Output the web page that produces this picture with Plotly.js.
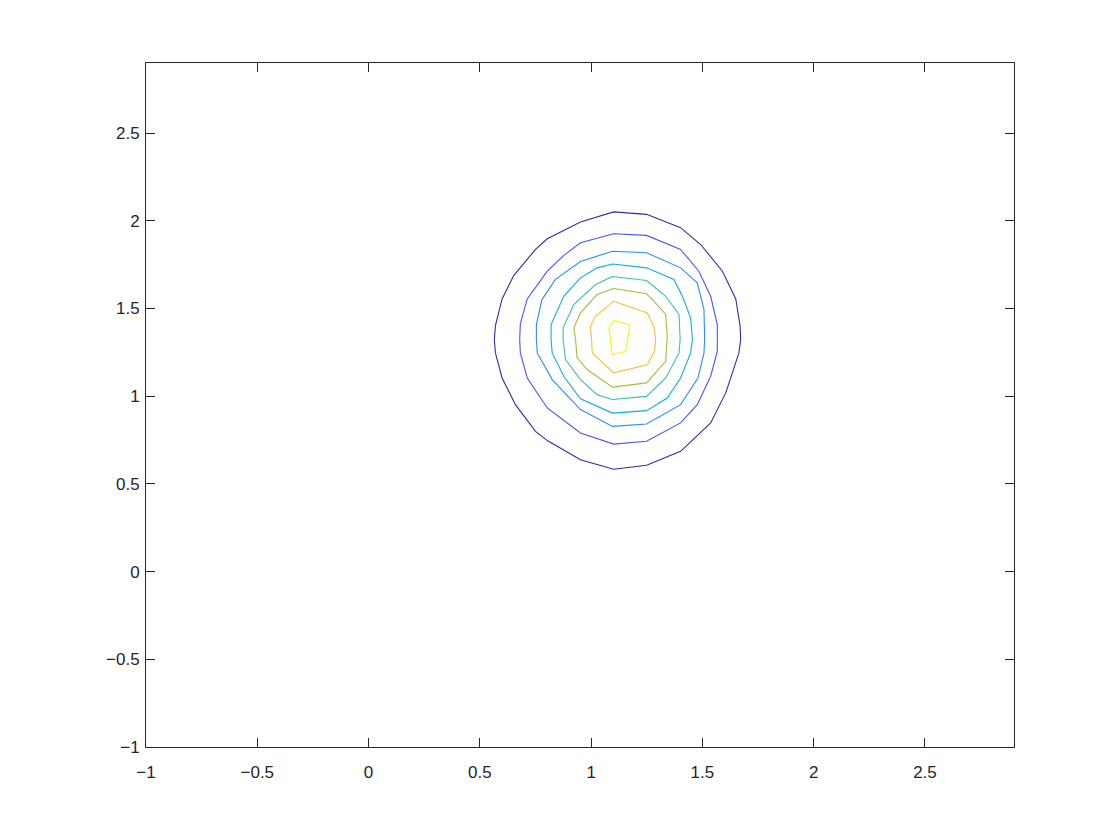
<!DOCTYPE html>
<html>
<head>
<meta charset="utf-8">
<script src="https://cdn.plot.ly/plotly-3.0.1.min.js"></script>
<style>
  body { margin: 0; background: #ffffff; }
  #myDiv { width: 1120px; height: 840px; }
</style>
</head>
<body>
<div id="myDiv"></div>
<script>
// contour levels (outer -> inner)
var lvl1X = [1.101, 1.249, 1.402, 1.492, 1.590, 1.650, 1.669, 1.672, 1.664, 1.605, 1.537, 1.402, 1.249, 1.101, 0.952, 0.803, 0.750, 0.660, 0.600, 0.570, 0.565, 0.570, 0.600, 0.652, 0.750, 0.803, 0.952, 1.101];
var lvl1Y = [2.051, 2.037, 1.961, 1.865, 1.713, 1.555, 1.403, 1.323, 1.247, 1.019, 0.848, 0.686, 0.606, 0.584, 0.638, 0.747, 0.800, 0.952, 1.104, 1.247, 1.323, 1.403, 1.555, 1.688, 1.837, 1.898, 1.993, 2.051];

var lvl2X = [1.101, 1.249, 1.402, 1.484, 1.537, 1.567, 1.567, 1.537, 1.477, 1.402, 1.249, 1.101, 0.952, 0.803, 0.713, 0.682, 0.679, 0.682, 0.713, 0.803, 0.876, 0.952, 1.101];
var lvl2Y = [1.926, 1.917, 1.837, 1.713, 1.570, 1.409, 1.256, 1.114, 0.952, 0.848, 0.743, 0.727, 0.790, 0.933, 1.104, 1.247, 1.323, 1.414, 1.555, 1.713, 1.802, 1.875, 1.926];

var lvl3X = [1.096, 1.249, 1.402, 1.477, 1.507, 1.510, 1.507, 1.480, 1.402, 1.249, 1.096, 0.952, 0.825, 0.758, 0.754, 0.754, 0.779, 0.840, 0.952, 1.096];
var lvl3Y = [1.827, 1.818, 1.732, 1.647, 1.494, 1.323, 1.247, 1.104, 0.952, 0.842, 0.828, 0.924, 1.095, 1.247, 1.323, 1.409, 1.551, 1.666, 1.768, 1.827];

var lvl4X = [1.096, 1.249, 1.372, 1.410, 1.447, 1.455, 1.447, 1.402, 1.342, 1.249, 1.096, 0.952, 0.877, 0.825, 0.820, 0.820, 0.877, 0.952, 1.027, 1.096];
var lvl4Y = [1.754, 1.732, 1.666, 1.570, 1.447, 1.323, 1.247, 1.104, 0.990, 0.918, 0.904, 0.985, 1.114, 1.247, 1.323, 1.409, 1.570, 1.675, 1.732, 1.754];

var lvl5X = [1.096, 1.249, 1.335, 1.395, 1.400, 1.395, 1.335, 1.249, 1.096, 1.027, 0.952, 0.885, 0.874, 0.874, 0.922, 1.020, 1.096];
var lvl5Y = [1.683, 1.660, 1.570, 1.466, 1.323, 1.247, 1.104, 0.999, 0.981, 1.009, 1.095, 1.209, 1.323, 1.390, 1.523, 1.637, 1.683];

var lvl6X = [1.102, 1.249, 1.282, 1.335, 1.342, 1.335, 1.249, 1.096, 0.982, 0.937, 0.930, 0.922, 0.952, 1.027, 1.102];
var lvl6Y = [1.614, 1.584, 1.542, 1.466, 1.340, 1.199, 1.076, 1.052, 1.152, 1.219, 1.323, 1.390, 1.475, 1.580, 1.614];

var lvl7X = [1.102, 1.252, 1.282, 1.290, 1.285, 1.252, 1.102, 1.005, 1.002, 0.997, 1.020, 1.102];
var lvl7Y = [1.542, 1.475, 1.399, 1.323, 1.256, 1.180, 1.133, 1.247, 1.323, 1.399, 1.456, 1.542];

var lvl8X = [1.102, 1.174, 1.155, 1.095, 1.080, 1.102];
var lvl8Y = [1.433, 1.407, 1.256, 1.237, 1.390, 1.433];

var levelColors = ['#3e26a8', '#4757f0', '#2d8cf0', '#0db0d4', '#3ac49e', '#a6be3a', '#fbbc3a', '#f9f50e'];

var xs = [lvl1X, lvl2X, lvl3X, lvl4X, lvl5X, lvl6X, lvl7X, lvl8X];
var ys = [lvl1Y, lvl2Y, lvl3Y, lvl4Y, lvl5Y, lvl6Y, lvl7Y, lvl8Y];

var data = [];
for (var i = 0; i < xs.length; i++) {
    data.push({
        x: xs[i],
        y: ys[i],
        mode: 'lines',
        type: 'scatter',
        line: { color: levelColors[i], width: 1.1 },
        hoverinfo: 'none',
        showlegend: false
    });
}

var axisStyle = {
    range: [-1, 2.9],
    dtick: 0.5,
    tick0: -1,
    showgrid: false,
    zeroline: false,
    showline: true,
    mirror: 'ticks',
    linecolor: '#262626',
    linewidth: 1,
    ticks: 'inside',
    ticklen: 9,
    tickwidth: 1,
    tickcolor: '#262626',
    tickfont: { family: 'Liberation Sans, Arial, sans-serif', size: 17, color: '#262626' }
};

var layout = {
    width: 1120,
    height: 840,
    margin: { l: 146, r: 106, t: 63, b: 93 },
    paper_bgcolor: '#ffffff',
    plot_bgcolor: '#ffffff',
    xaxis: Object.assign({}, axisStyle, { ticklabelstandoff: 10 }),
    yaxis: Object.assign({}, axisStyle, { ticklabelstandoff: 2 })
};

Plotly.newPlot('myDiv', data, layout, { displayModeBar: false, staticPlot: true });
</script>
</body>
</html>
